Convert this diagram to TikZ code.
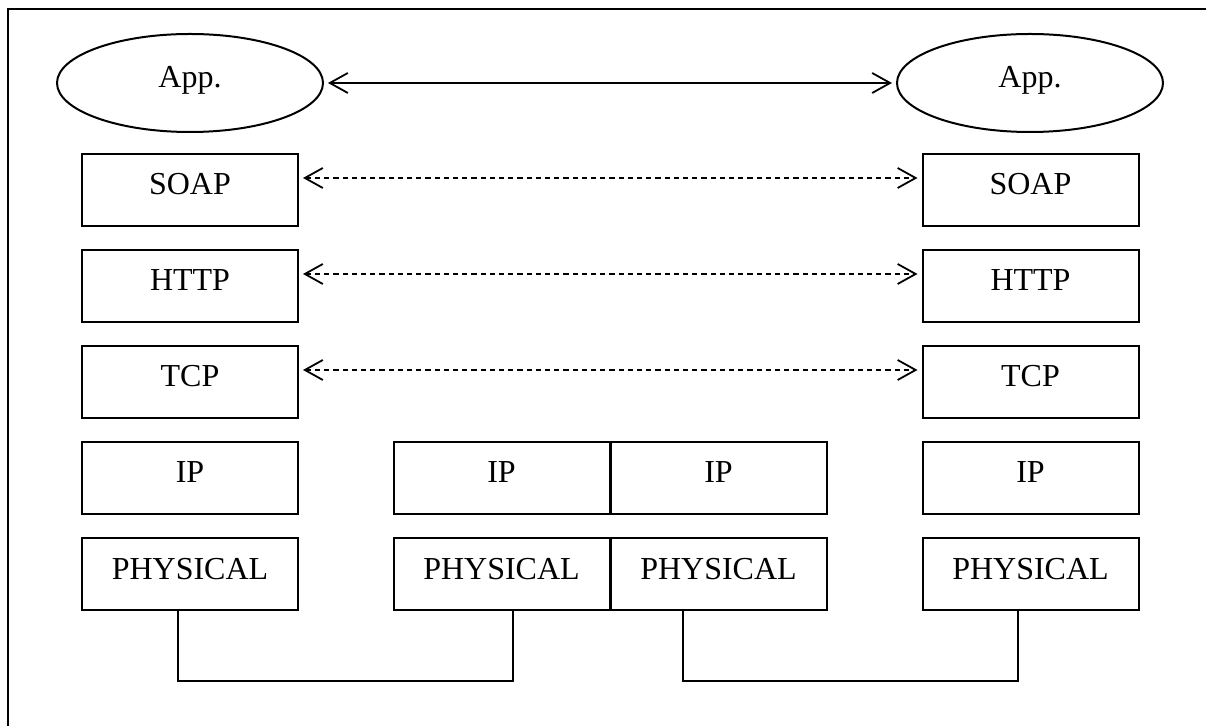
\documentclass[tikz,border=0pt]{standalone}
\usepackage{fontspec}
\setmainfont{Liberation Serif}
\usetikzlibrary{shapes.geometric,arrows.meta}
\begin{document}
\begin{tikzpicture}[x=0.5pt,y=-0.5pt,
  lbl/.style={font=\fontsize{16}{19}\selectfont, text height=11pt, text depth=6pt},
  layerbox/.style={lbl, draw, line width=1pt, rectangle, inner sep=0pt, minimum width=108pt, minimum height=36pt},
  appnode/.style={lbl, draw, line width=1pt, ellipse, inner sep=0pt, minimum width=133pt, minimum height=49pt},
  peer/.style={{Straight Barb[length=9pt,width=10pt,line width=0.9pt]}-{Straight Barb[length=9pt,width=10pt,line width=0.9pt]}, line width=0.9pt, shorten <=2pt, shorten >=2pt},
  vpeer/.style={peer, line width=0.8pt, dash pattern=on 2.6pt off 2pt},
  wire/.style={line width=0.9pt}]
\useasboundingbox (0,0) rectangle (1206,726);
\draw[line width=1.2pt] (8,726) -- (8,9) -- (1206,9);

% application ellipses
\node[appnode] (appL) at (190,83) {App.};
\node[appnode] (appR) at (1030,83) {App.};

% left stack
\node[layerbox] (soapL) at (190,190) {SOAP};
\node[layerbox] (httpL) at (190,286) {HTTP};
\node[layerbox] (tcpL)  at (190,382) {TCP};
\node[layerbox] (ipL)   at (190,478) {IP};
\node[layerbox] (phyL)  at (190,574.5) {PHYSICAL};

% right stack
\node[layerbox] (soapR) at (1030.5,190) {SOAP};
\node[layerbox] (httpR) at (1030.5,286) {HTTP};
\node[layerbox] (tcpR)  at (1030.5,382) {TCP};
\node[layerbox] (ipR)   at (1030.5,478) {IP};
\node[layerbox] (phyR)  at (1030.5,574.5) {PHYSICAL};

% router
\node[layerbox] (ipM1)  at (501.5,478) {IP};
\node[layerbox] (ipM2)  at (718.5,478) {IP};
\node[layerbox] (phyM1) at (501.5,574.5) {PHYSICAL};
\node[layerbox] (phyM2) at (718.5,574.5) {PHYSICAL};

% peer arrows
\draw[peer] (appL) -- (appR);
\draw[vpeer] ([yshift=6pt]soapL.east) -- ([yshift=6pt]soapR.west);
\draw[vpeer] ([yshift=6pt]httpL.east) -- ([yshift=6pt]httpR.west);
\draw[vpeer] ([yshift=6pt]tcpL.east) -- ([yshift=6pt]tcpR.west);

% physical links
\coordinate (w1) at (178,681);
\coordinate (w2) at (513,681);
\coordinate (w3) at (683,681);
\coordinate (w4) at (1018,681);
\draw[wire] (phyL.south -| w1) -- (w1) -- (w2) -- (phyM1.south -| w2);
\draw[wire] (phyM2.south -| w3) -- (w3) -- (w4) -- (phyR.south -| w4);
\end{tikzpicture}
\end{document}
